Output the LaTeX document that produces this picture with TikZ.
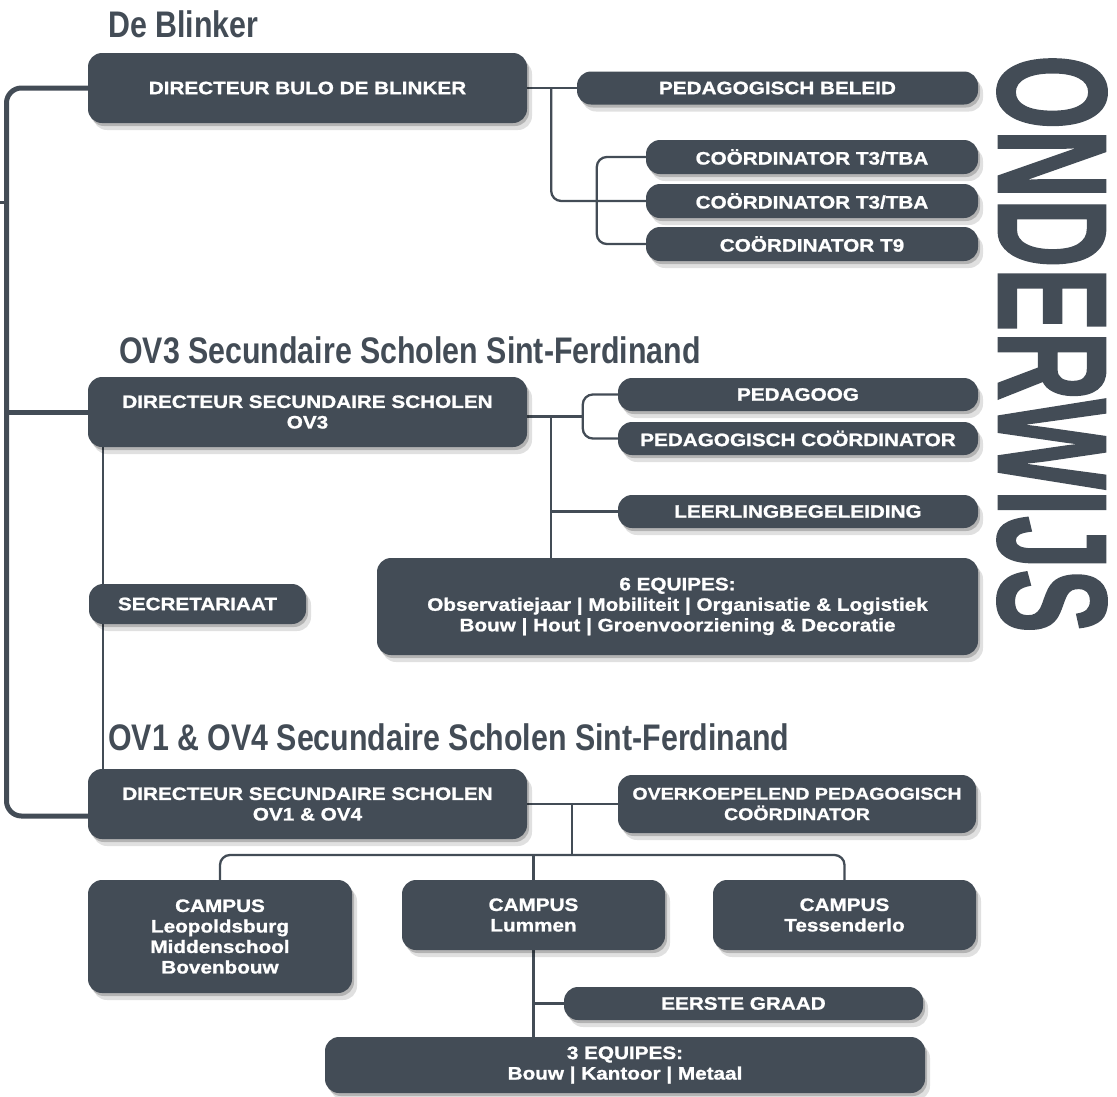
\documentclass[tikz,border=0pt]{standalone}
\usepackage{fontspec}
\setmainfont{Liberation Sans}
\newfontfamily\boxfont[FakeStretch=1.15,FakeBold=1.2]{Liberation Sans Bold}
\newfontfamily\headfont[FakeStretch=0.82]{Liberation Sans Bold}
\newfontfamily\bigfont[FakeBold=1.5]{Liberation Sans Bold}
\usetikzlibrary{positioning,shadows,backgrounds,calc}
\definecolor{slate}{RGB}{67,76,86}

\begin{document}
\begin{tikzpicture}[x=1pt,y=-1pt,
    box/.style={fill=slate,text=white,rounded corners=14pt,align=center,inner sep=0pt,
        font=\boxfont\fontsize{18}{20.5}\selectfont,
        drop shadow={shadow xshift=2pt,shadow yshift=-3pt,opacity=.2,fill=black},
        drop shadow={shadow xshift=5pt,shadow yshift=-7pt,opacity=.12,fill=black}},
    conn/.style={draw=slate,line width=2.3pt},
    head/.style={anchor=base west,inner sep=0pt,text=slate,font=\headfont\fontsize{37}{40}\selectfont}]
    \useasboundingbox (0,0) rectangle (1117,1096);

    \node[head] (tblinker) at (108,37) {De Blinker};
    \node[box,minimum width=439pt,minimum height=70pt] (blinker) at (307.5,88) {DIRECTEUR BULO DE BLINKER};
    \node[box,minimum width=401pt,minimum height=33pt] (beleid) at (777.5,88) {PEDAGOGISCH BELEID};
    \foreach \n/\y/\t in {1/157/{COÖRDINATOR T3/TBA},2/201/{COÖRDINATOR T3/TBA},3/244/{COÖRDINATOR T9}}
        \node[box,minimum width=332pt,minimum height=34pt] (coord\n) at (812,\y) {\t};

    \node[head] (tov3) at (119,363) {OV3 Secundaire Scholen Sint-Ferdinand};
    \node[box,minimum width=439pt,minimum height=70pt] (ov3) at (307.5,412) {DIRECTEUR SECUNDAIRE SCHOLEN\\OV3};
    \node[box,minimum width=360pt,minimum height=33pt] (pedagoog) at (798,394.5) {PEDAGOOG};
    \node[box,minimum width=360pt,minimum height=33pt] (pcoord) at (798,438.5) {PEDAGOGISCH COÖRDINATOR};
    \node[box,minimum width=360pt,minimum height=33pt] (llb) at (798,511.5) {LEERLINGBEGELEIDING};
    \node[box,minimum width=601pt,minimum height=97pt] (equipes6) at (677.5,606.5)
        {6 EQUIPES:\\Observatiejaar | Mobiliteit | Organisatie \& Logistiek\\Bouw | Hout | Groenvoorziening \& Decoratie};
    \node[box,minimum width=217pt,minimum height=40pt] (secr) at (197.5,604) {SECRETARIAAT};

    \node[head] (tov14) at (108,750) {OV1 \& OV4 Secundaire Scholen Sint-Ferdinand};
    \node[box,minimum width=439pt,minimum height=70pt] (ov14) at (307.5,804) {DIRECTEUR SECUNDAIRE SCHOLEN\\OV1 \& OV4};
    \node[box,minimum width=358pt,minimum height=58pt,font=\boxfont\fontsize{17}{20.5}\selectfont] (opc) at (797,804)
        {OVERKOEPELEND PEDAGOGISCH\\COÖRDINATOR};
    \node[box,minimum width=264pt,minimum height=113pt] (leo) at (220,936.5) {CAMPUS\\Leopoldsburg\\Middenschool\\Bovenbouw};
    \node[box,minimum width=263pt,minimum height=70pt] (lum) at (533.5,915) {CAMPUS\\Lummen};
    \node[box,minimum width=263pt,minimum height=70pt] (tes) at (844.5,915) {CAMPUS\\Tessenderlo};
    \node[box,minimum width=359pt,minimum height=33pt] (eerste) at (743.5,1003.5) {EERSTE GRAAD};
    \node[box,minimum width=600pt,minimum height=56pt] (equipes3) at (625,1065) {3 EQUIPES:\\Bouw | Kantoor | Metaal};

    \node[rotate=-90,inner sep=0pt,text=slate] (onderwijs) at (1052,344)
        {\resizebox{578pt}{108pt}{\bigfont ONDERWIJS}};

    \begin{pgfonlayer}{background}
        \coordinate (trunk) at (6.5,450);
        \coordinate (stub) at (0,202);
        \draw[conn,line width=5pt,rounded corners=15pt] (blinker.west) -| (trunk) |- ([yshift=-12pt]ov14.west);
        \draw[conn,line width=5pt] (trunk |- ov3.west) -- (ov3.west);
        \draw[conn,line width=3pt] (stub) -- (trunk |- stub);

        \coordinate (v1) at ($(blinker.east)+(24,0)$);
        \draw[conn] (blinker.east) -- (beleid.west);
        \draw[conn,rounded corners=10pt] (v1) |- (coord2.west);
        \draw[conn,rounded corners=10pt] (coord1.west) -- ++(-49,0) |- (coord3.west);

        \coordinate (brk) at ($(pedagoog.west)!.5!(pcoord.west)+(-35,0)$);
        \coordinate (v2) at ($(ov3.east |- brk)+(24,0)$);
        \draw[conn] (ov3.east |- brk) -- (brk);
        \draw[conn,rounded corners=10pt] (pedagoog.west) -- ++(-35,0) |- (pcoord.west);
        \draw[conn] (v2) |- (llb.west);
        \draw[conn] (v2) -- (v2 |- equipes6.north);
        \draw[conn] ([xshift=15pt]ov3.south west) -- ([xshift=15pt]ov14.north west);

        \coordinate (bus) at ($(ov14.east)+(45,51)$);
        \draw[conn] (ov14.east) -- (opc.west);
        \draw[conn] (ov14.east -| bus) -- (bus);
        \draw[conn,rounded corners=10pt] (leo.north) |- (bus) -| (tes.north);
        \draw[conn] (lum.north) -- (lum.north |- bus);
        \draw[conn] (lum.south) -- (lum.south |- equipes3.north);
        \draw[conn] (lum.south |- eerste.west) -- (eerste.west);
    \end{pgfonlayer}
\end{tikzpicture}
\end{document}
